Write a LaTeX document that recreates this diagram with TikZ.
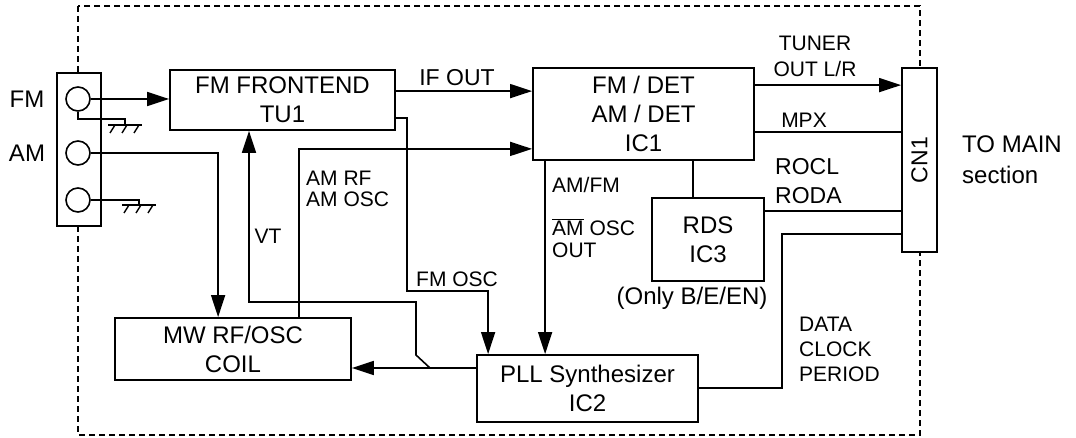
\documentclass[tikz,border=0pt]{standalone}
\usepackage{fontspec}
\setmainfont{Liberation Sans}
\usetikzlibrary{calc, positioning, arrows.meta}

\begin{document}
\begin{tikzpicture}[
  x=1pt, y=-1pt,
  box/.style={draw, line width=1.8pt, fill=white, align=center,
              font=\fontsize{24}{29}\selectfont, inner sep=0pt},
  jack/.style={circle, draw, line width=1.6pt, fill=white,
               minimum size=24pt, inner sep=0pt},
  wire/.style={line width=1.6pt},
  sig/.style={wire, -{Triangle[length=22pt, width=14pt]}},
  lbl/.style={inner sep=0pt, align=left, font=\fontsize{21}{21}\selectfont},
  gnd/.pic={
    \draw[line width=1.4pt] (-17,0) -- (17,0);
    \foreach \t in {-10,2,14} \draw[line width=1.4pt] (\t,0) -- (\t-5,8);
  },
]
\useasboundingbox (0,0) rectangle (1076,438);

% tuner pack outline
\draw[line width=1.3pt, dash pattern=on 6pt off 4pt] (78,6) rectangle (920,435);

% antenna terminals
\node[box, minimum width=44pt, minimum height=153pt] (panel) at (79,149.5) {};
\node[jack] (j1) at (78,99) {};
\node[jack] (j2) at (78,153) {};
\node[jack] (j3) at (78,200) {};
\node[font=\fontsize{24}{24}\selectfont] (fmin) at (27,99) {FM};
\node[font=\fontsize{24}{24}\selectfont] (amin) at (27,153) {AM};

% blocks
\node[box, minimum width=225pt, minimum height=60pt] (fe) at (282.5,100) {FM FRONTEND\\TU1};
\node[box, minimum width=221pt, minimum height=92pt] (ic1) at (643.5,114) {FM / DET\\AM / DET\\IC1};
\node[box, minimum width=112pt, minimum height=83pt] (rds) at (708,239.5) {RDS\\IC3};
\node[box, minimum width=35pt, minimum height=184pt] (cn1) at (919.5,160) {};
\node[rotate=90, font=\fontsize{23}{23}\selectfont] (cn1txt) at (cn1) {CN1};
\node[box, minimum width=236pt, minimum height=62pt] (mw) at (233,349) {MW RF/OSC\\COIL};
\node[box, minimum width=221pt, minimum height=67pt] (pll) at (587.5,388.5) {PLL Synthesizer\\IC2};

\coordinate (g1) at (125,125);
\coordinate (g2) at (139,205);
\coordinate (fmosc) at (407,291);
\coordinate (vtj) at (430,368);
\coordinate (vtc) at (249,302);
\coordinate (dck) at (782,234);

% antenna wiring
\draw[sig] (j1.east) -- (fe.west |- j1.east);
\draw[wire] (j1.south) |- (g1 |- 0,119) -- (g1) pic {gnd};
\draw[wire] (j3.east) -| (g2) pic {gnd};
\draw[sig] (j2.east) -| ($(mw.north west)+(104,0)$);

% front end
\draw[sig] ($(fe.north east)+(0,22)$) coordinate (ifo) -- (ifo -| ic1.west);
\draw[sig] ($(mw.north west)+(185,0)$) |- ($(ic1.south west)+(0,-12)$);
\draw[sig] ($(fe.south east)+(0,-13)$) -| (fmosc) -| ($(pll.north west)+(12,0)$);
\draw[sig] (vtj) -- ++(-14,-13) |- (vtc) -- (vtc |- fe.south);
\draw[sig] (pll.west |- vtj) -- (mw.east |- vtj);

% detector / rds / connector
\draw[sig] ($(ic1.south west)+(13,0)$) coordinate (amfm) -- (amfm |- pll.north);
\draw[wire] ($(rds.north west)+(42,0)$) coordinate (ic1rds) -- (ic1rds |- ic1.south);
\draw[sig] ($(ic1.north east)+(0,18)$) coordinate (tun) -- (tun -| cn1.west);
\draw[wire] ($(ic1.north east)+(0,65)$) coordinate (mpx) -- (mpx -| cn1.west);
\draw[wire] ($(rds.north east)+(0,14)$) coordinate (rdo) -- (rdo -| cn1.west);
\draw[wire] ($(pll.north east)+(0,34)$) -| (dck) -- (dck -| cn1.west);

% labels
\node[lbl, font=\fontsize{23}{24}\selectfont] (ifolbl) at (457,78) {IF OUT};
\node[lbl, anchor=west, align=left] (amrf) at (306,189) {AM RF\\AM OSC};
\node[lbl] (vtlbl) at (268,236) {VT};
\node[lbl, anchor=west] (fmosclbl) at (416,279) {FM OSC};
\node[lbl, anchor=west] (amfmlbl) at (552,185) {AM/FM};
\node[lbl, anchor=west, font=\fontsize{21}{22}\selectfont] (amosc) at (552,238) {$\overline{\mbox{AM}}$ OSC\\OUT};
\node[lbl, font=\fontsize{24}{24}\selectfont] (only) at (692,298) {(Only B/E/EN)};
\node[lbl, align=center, font=\fontsize{21}{26}\selectfont] (tunlbl) at (815,56) {TUNER\\OUT L/R};
\node[lbl] (mpxlbl) at (804,120) {MPX};
\node[lbl, anchor=west, font=\fontsize{23}{29}\selectfont] (rdolbl) at (775,181) {ROCL\\RODA};
\node[lbl, anchor=west, font=\fontsize{21}{25}\selectfont] (dcklbl) at (799,349) {DATA\\CLOCK\\PERIOD};
\node[lbl, anchor=west, font=\fontsize{24}{31}\selectfont] (tomain) at (962,160) {TO MAIN\\section};
\end{tikzpicture}
\end{document}
